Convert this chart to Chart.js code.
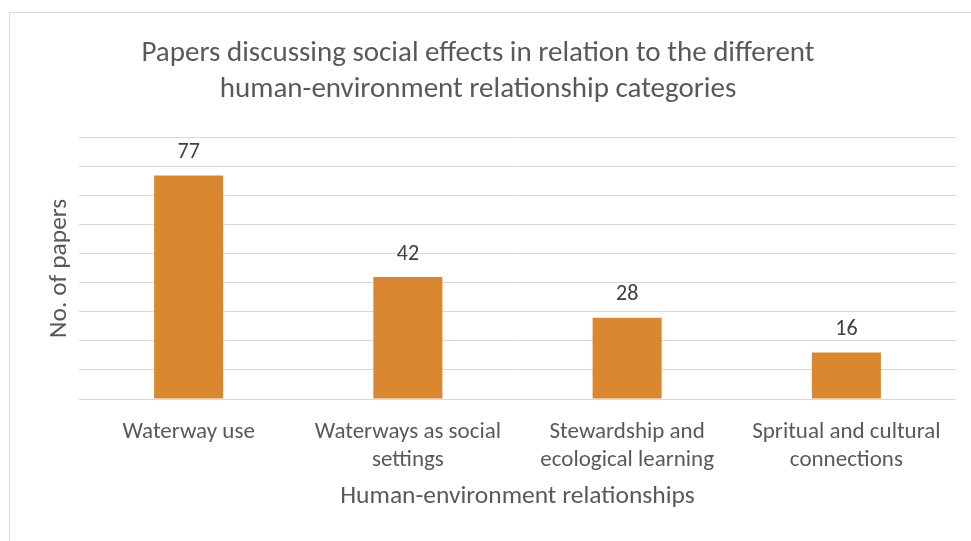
<!DOCTYPE html>
<html>
<head>
<meta charset="utf-8">
<script src="https://cdn.jsdelivr.net/npm/chart.js@4"></script>
<style>
    html, body { margin: 0; padding: 0; background: #fff; }
    #wrap { position: relative; width: 971px; height: 541px; }
</style>
</head>
<body>
<div id="wrap"><canvas id="papersChart" width="971" height="541"></canvas></div>
<script>
// Categories and counts
const categories = [
    ["Waterway use"],
    ["Waterways as social", "settings"],
    ["Stewardship and", "ecological learning"],
    ["Spritual and cultural", "connections"]
];
const paperCounts = [77, 42, 28, 16];
const yMin = 0;
const yMax = 90;
const yStep = 10;

const FONT = "Carlito, Lato, sans-serif";
const textGrey = "#595959";

// Light frame around the chart, like an office chart box
const framePlugin = {
    id: "frame",
    beforeDraw(chart) {
        const ctx = chart.ctx;
        ctx.save();
        ctx.fillStyle = "#fff";
        ctx.fillRect(0, 0, chart.width, chart.height);
        ctx.strokeStyle = "#d9d9d9";
        ctx.lineWidth = 1;
        ctx.strokeRect(9.5, 12.5, chart.width, chart.height);
        ctx.restore();
    }
};

// Value labels above each bar
const valueLabels = {
    id: "valueLabels",
    afterDatasetsDraw(chart) {
        const ctx = chart.ctx;
        ctx.save();
        ctx.font = "22px " + FONT;
        ctx.fillStyle = "#404040";
        ctx.textAlign = "center";
        ctx.textBaseline = "middle";
        chart.getDatasetMeta(0).data.forEach((bar, i) => {
            ctx.fillText(String(paperCounts[i]), bar.x, bar.y - 23);
        });
        ctx.restore();
    }
};

new Chart(document.getElementById("papersChart"), {
    type: "bar",
    data: {
        labels: categories,
        datasets: [{
            data: paperCounts,
            backgroundColor: "#d98830",
            categoryPercentage: 1,
            barPercentage: 0.315
        }]
    },
    options: {
        responsive: false,
        animation: false,
        layout: { padding: { top: 0, right: 15, bottom: 29, left: 0 } },
        plugins: {
            legend: { display: false },
            tooltip: { enabled: false },
            title: {
                display: true,
                text: [
                    "Papers discussing social effects in relation to the different",
                    "human-environment relationship categories"
                ],
                color: textGrey,
                font: { family: FONT, size: 29, weight: "normal", lineHeight: "36px" },
                padding: { top: 36, bottom: 29.7 }
            }
        },
        scales: {
            x: {
                grid: { display: false, drawTicks: false },
                border: { display: false },
                ticks: {
                    color: textGrey,
                    font: { family: FONT, size: 23, lineHeight: "28px" },
                    padding: 19,
                    maxRotation: 0,
                    autoSkip: false
                },
                title: {
                    display: true,
                    text: "Human-environment relationships",
                    color: textGrey,
                    font: { family: FONT, size: 25.5, lineHeight: "30px" },
                    padding: { top: 0, bottom: 0 }
                },
                afterFit(axis) { axis.height = 113; }
            },
            y: {
                min: yMin,
                max: yMax,
                ticks: { display: false, stepSize: yStep },
                grid: { color: "#d9d9d9", lineWidth: 1, drawTicks: false },
                border: { display: false },
                title: {
                    display: true,
                    text: "No. of papers",
                    color: textGrey,
                    font: { family: FONT, size: 25.5, lineHeight: "30px" },
                    padding: { top: 45, bottom: 0 }
                },
                afterFit(axis) { axis.width = 79; }
            }
        }
    },
    plugins: [framePlugin, valueLabels]
});
</script>
</body>
</html>
